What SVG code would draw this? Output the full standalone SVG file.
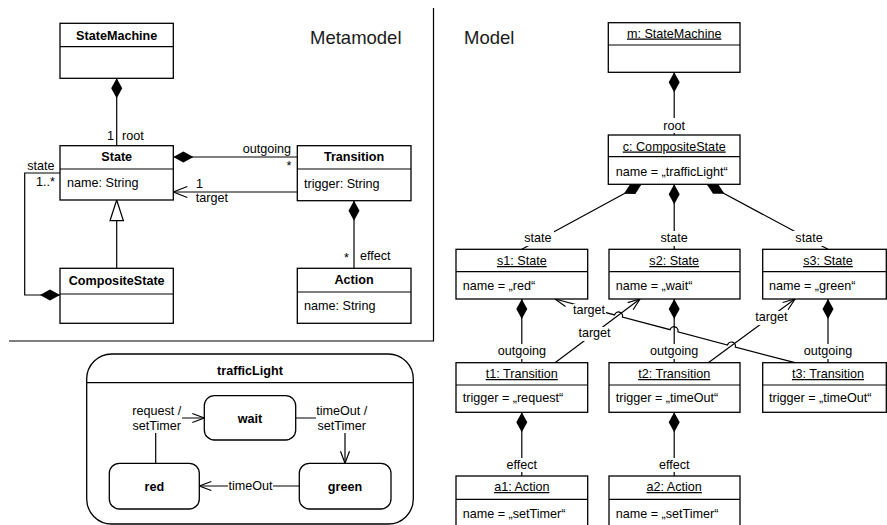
<svg xmlns="http://www.w3.org/2000/svg" width="887" height="525" viewBox="0 0 887 525">
  <style>
    text { font-family: "Liberation Sans", Arial, sans-serif; font-size: 12.6px; fill: #000; }
    .b { font-weight: bold; }
    .u { text-decoration: underline; }
    .m { text-anchor: middle; }
    .e { text-anchor: end; }
    .big { font-size: 18.5px; fill: #1a1a1a; }
    .box { fill: #fff; stroke: #000; stroke-width: 1.3; }
    .ln { fill: none; stroke: #000; stroke-width: 1.2; }
    .bg { fill: #fff; stroke: none; }
    .comp { marker-start: url(#diamond); }
    .nav { marker-end: url(#open); }
    .navL { marker-end: url(#openL); }
  </style>
  <defs>
    <!-- filled composition diamond, drawn from the path start into the line -->
    <marker id="diamond" viewBox="0 -6 20 12" refX="0" refY="0" markerWidth="20" markerHeight="12" markerUnits="userSpaceOnUse" orient="auto">
      <path d="M0,0 L10,-5.5 L20,0 L10,5.5 Z" fill="#000"/>
    </marker>
    <!-- open navigation arrowheads -->
    <marker id="open" viewBox="-14 -7 16 14" refX="0" refY="0" markerWidth="16" markerHeight="14" markerUnits="userSpaceOnUse" orient="auto">
      <path d="M-12,-4.5 L0,0 L-12,4.5" fill="none" stroke="#000" stroke-width="1.2"/>
    </marker>
    <marker id="openL" viewBox="-16 -8 18 16" refX="0" refY="0" markerWidth="18" markerHeight="16" markerUnits="userSpaceOnUse" orient="auto">
      <path d="M-14,-5.5 L0,0 L-14,5.5" fill="none" stroke="#000" stroke-width="1.2"/>
    </marker>
  </defs>

  <rect width="887" height="525" fill="#fff"/>

  <!-- section frame -->
  <g id="frame">
    <path class="ln" d="M433.5,8 V341 H9"/>
    <text class="big" x="310" y="44">Metamodel</text>
    <text class="big" x="464" y="44">Model</text>
  </g>

  <!-- ===== Metamodel ===== -->
  <g id="mm-connectors">
    <path class="ln comp" d="M116.7,78.3 V145.7"/>
    <path class="ln comp" d="M173.3,157 H297.3"/>
    <path class="ln navL" d="M297.3,192 H173.3"/>
    <path class="ln comp" d="M354,200.7 V268.3"/>
    <path class="ln comp" d="M60,295 H24.7 V173 H60"/>
    <path class="ln" d="M116.7,220.7 V268.3"/>
    <polygon points="116.7,200 110,220.7 123.4,220.7" fill="#fff" stroke="#000" stroke-width="1.2"/>
    <text x="107" y="139.5">1</text>
    <text x="122" y="139.5">root</text>
    <text class="e" x="291" y="153">outgoing</text>
    <text class="m" x="289" y="170">*</text>
    <text x="196" y="188">1</text>
    <text x="195.7" y="202">target</text>
    <text class="e" x="54.5" y="170">state</text>
    <text class="e" x="55" y="186">1..*</text>
    <text x="344" y="261.5">*</text>
    <text x="360" y="259.5">effect</text>
  </g>

  <g id="mm-StateMachine">
    <rect class="box" x="60" y="23.3" width="113.3" height="55"/>
    <line class="ln" x1="60" y1="46.7" x2="173.3" y2="46.7"/>
    <text class="b m" x="116.7" y="39.5">StateMachine</text>
  </g>
  <g id="mm-State">
    <rect class="box" x="60" y="145.7" width="113.3" height="54.3"/>
    <line class="ln" x1="60" y1="169" x2="173.3" y2="169"/>
    <text class="b m" x="116.7" y="161">State</text>
    <text x="67" y="187">name: String</text>
  </g>
  <g id="mm-Transition">
    <rect class="box" x="297.3" y="145.7" width="113.7" height="55"/>
    <line class="ln" x1="297.3" y1="169" x2="411" y2="169"/>
    <text class="b m" x="354" y="161">Transition</text>
    <text x="304" y="187.5">trigger: String</text>
  </g>
  <g id="mm-CompositeState">
    <rect class="box" x="60" y="268.3" width="113.3" height="55"/>
    <line class="ln" x1="60" y1="294" x2="173.3" y2="294"/>
    <text class="b m" x="116.7" y="285">CompositeState</text>
  </g>
  <g id="mm-Action">
    <rect class="box" x="297.3" y="268.3" width="113.7" height="55"/>
    <line class="ln" x1="297.3" y1="292" x2="411" y2="292"/>
    <text class="b m" x="354" y="284">Action</text>
    <text x="304" y="309.5">name: String</text>
  </g>

  <!-- ===== State machine trafficLight ===== -->
  <g id="sm-trafficLight">
    <rect class="box" x="86.7" y="354" width="326.6" height="170" rx="25"/>
    <line class="ln" x1="86.7" y1="382.7" x2="413.3" y2="382.7"/>
    <text class="b m" x="250" y="374.5">trafficLight</text>
  </g>
  <g id="sm-transitions">
    <path class="ln nav" d="M155.7,463.3 V418 H204.3"/>
    <rect class="bg" x="131" y="404" width="51" height="29"/>
    <text class="m" x="156.7" y="415">request /</text>
    <text class="m" x="156.7" y="430">setTimer</text>
    <path class="ln nav" d="M295.7,418 H345 V463.3"/>
    <rect class="bg" x="316" y="404" width="51" height="29"/>
    <text class="m" x="341.7" y="415">timeOut /</text>
    <text class="m" x="341.7" y="430">setTimer</text>
    <path class="ln nav" d="M299.3,486 H199.3"/>
    <rect class="bg" x="228" y="478" width="45" height="15"/>
    <text class="m" x="250.5" y="490">timeOut</text>
  </g>
  <g id="sm-wait">
    <rect class="box" x="204.3" y="395.7" width="91.4" height="44.3" rx="10"/>
    <text class="b m" x="250" y="422.5">wait</text>
  </g>
  <g id="sm-red">
    <rect class="box" x="109.3" y="463.3" width="90" height="45.7" rx="10"/>
    <text class="b m" x="154.3" y="490.5">red</text>
  </g>
  <g id="sm-green">
    <rect class="box" x="299.3" y="463.3" width="91.7" height="45.7" rx="10"/>
    <text class="b m" x="345" y="490.5">green</text>
  </g>

  <!-- ===== Object model ===== -->
  <g id="model-connectors">
    <path class="ln comp" d="M674.2,72.3 V135"/>
    <path class="ln comp" d="M641.5,184.3 L521.8,249.3"/>
    <path class="ln comp" d="M674.2,184.3 V249.3"/>
    <path class="ln comp" d="M706.8,184.3 L828,249.3"/>
    <path class="ln comp" d="M521.8,299 V362.7"/>
    <path class="ln comp" d="M674.2,299 V362.7"/>
    <path class="ln comp" d="M828,299 V362.7"/>
    <path class="ln comp" d="M521.8,412.3 V476"/>
    <path class="ln comp" d="M674.2,412.3 V476"/>
    <path class="ln nav" d="M555,362.7 L640,299"/>
    <path class="ln nav" d="M708.3,362.7 L795,299"/>
    <!-- t3 to s1, hopping over the three lines it crosses -->
    <path class="ln nav" d="M795,362.7 L735.3,347.1 A4,4 0 0 0 727.5,345 L677.9,331.8 A4,4 0 0 0 670.1,329.7 L622.4,317 A4,4 0 0 0 614.6,314.9 L555,299"/>

    <rect class="bg" x="660" y="118" width="29" height="15"/>
    <text class="m" x="674.2" y="129.5">root</text>
    <rect class="bg" x="522" y="231" width="32" height="15"/>
    <text class="m" x="537.8" y="242">state</text>
    <rect class="bg" x="658" y="231" width="32" height="15"/>
    <text class="m" x="674.2" y="242">state</text>
    <rect class="bg" x="793" y="231" width="32" height="15"/>
    <text class="m" x="809" y="242">state</text>
    <rect class="bg" x="497" y="344" width="50" height="15"/>
    <text class="m" x="521.8" y="355">outgoing</text>
    <rect class="bg" x="649" y="344" width="50" height="15"/>
    <text class="m" x="674.2" y="355">outgoing</text>
    <rect class="bg" x="803" y="344" width="50" height="15"/>
    <text class="m" x="828" y="355">outgoing</text>
    <rect class="bg" x="573" y="304" width="33" height="14"/>
    <text class="m" x="589" y="314">target</text>
    <rect class="bg" x="578" y="327" width="33" height="14"/>
    <text class="m" x="594.5" y="337">target</text>
    <rect class="bg" x="755" y="311" width="33" height="14"/>
    <text class="m" x="771.4" y="321">target</text>
    <rect class="bg" x="506" y="458" width="32" height="14"/>
    <text class="m" x="521.8" y="469">effect</text>
    <rect class="bg" x="658" y="458" width="32" height="14"/>
    <text class="m" x="674.2" y="469">effect</text>
  </g>

  <g id="m">
    <rect class="box" x="608.3" y="22.7" width="131.7" height="49.6"/>
    <line class="ln" x1="608.3" y1="45" x2="740" y2="45"/>
    <text class="u m" x="674.2" y="37.5">m: StateMachine</text>
  </g>
  <g id="c">
    <rect class="box" x="608.3" y="135" width="131.7" height="49.3"/>
    <line class="ln" x1="608.3" y1="156.7" x2="740" y2="156.7"/>
    <text class="u m" x="674.2" y="150.5">c: CompositeState</text>
    <text x="615.7" y="176">name = „trafficLight“</text>
  </g>
  <g id="s1">
    <rect class="box" x="456" y="249.3" width="131.7" height="49.7"/>
    <line class="ln" x1="456" y1="271.7" x2="587.7" y2="271.7"/>
    <text class="u m" x="521.8" y="265">s1: State</text>
    <text x="462.7" y="290">name = „red“</text>
  </g>
  <g id="s2">
    <rect class="box" x="609" y="249.3" width="131" height="49.7"/>
    <line class="ln" x1="609" y1="271.7" x2="740" y2="271.7"/>
    <text class="u m" x="674.2" y="265">s2: State</text>
    <text x="615.7" y="290">name = „wait“</text>
  </g>
  <g id="s3">
    <rect class="box" x="762.7" y="249.3" width="123.6" height="49.7"/>
    <line class="ln" x1="762.7" y1="271.7" x2="886.3" y2="271.7"/>
    <text class="u m" x="828" y="265">s3: State</text>
    <text x="769" y="290">name = „green“</text>
  </g>
  <g id="t1">
    <rect class="box" x="456" y="362.7" width="131.7" height="49.6"/>
    <line class="ln" x1="456" y1="385" x2="587.7" y2="385"/>
    <text class="u m" x="521.8" y="378">t1: Transition</text>
    <text x="462.7" y="402">trigger = „request“</text>
  </g>
  <g id="t2">
    <rect class="box" x="609" y="362.7" width="131" height="49.6"/>
    <line class="ln" x1="609" y1="385" x2="740" y2="385"/>
    <text class="u m" x="674.2" y="378">t2: Transition</text>
    <text x="615.7" y="402">trigger = „timeOut“</text>
  </g>
  <g id="t3">
    <rect class="box" x="762.7" y="362.7" width="123.6" height="49.6"/>
    <line class="ln" x1="762.7" y1="385" x2="886.3" y2="385"/>
    <text class="u m" x="828" y="378">t3: Transition</text>
    <text x="769" y="402">trigger = „timeOut“</text>
  </g>
  <g id="a1">
    <rect class="box" x="456" y="476" width="131.7" height="60"/>
    <line class="ln" x1="456" y1="499.3" x2="587.7" y2="499.3"/>
    <text class="u m" x="521.8" y="491">a1: Action</text>
    <text x="462.7" y="517.5">name = „setTimer“</text>
  </g>
  <g id="a2">
    <rect class="box" x="609" y="476" width="131" height="60"/>
    <line class="ln" x1="609" y1="499.3" x2="740" y2="499.3"/>
    <text class="u m" x="674.2" y="491">a2: Action</text>
    <text x="615.7" y="517.5">name = „setTimer“</text>
  </g>
</svg>
